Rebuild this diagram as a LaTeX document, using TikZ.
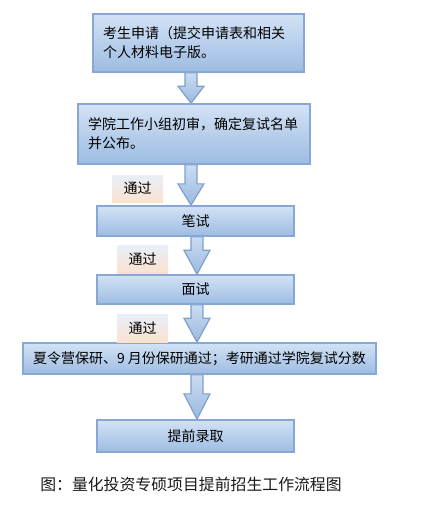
\documentclass[tikz,border=0pt]{standalone}
\usepackage{fontspec}
\setmainfont{Noto Sans CJK SC}
\usetikzlibrary{calc,backgrounds}
\definecolor{boxtop}{HTML}{D3E2F5}
\definecolor{boxbot}{HTML}{9DBCE2}
\definecolor{boxline}{HTML}{87A8D3}
\definecolor{arrtop}{HTML}{CBDCF1}
\definecolor{arrbot}{HTML}{9AB9E0}
\definecolor{arrline}{HTML}{7F9FCC}
\definecolor{labtop}{HTML}{E8EFF9}
\definecolor{labbot}{HTML}{FBE2CF}
\tikzset{
  sz/.style 2 args={minimum width=#1*0.75pt, minimum height=#2*0.75pt},
  boxtext/.style={font=\fontsize{10.5}{14.25}\selectfont},
  flowbox/.style={draw=boxline, line width=1.2pt, top color=boxtop, bottom color=boxbot, inner sep=0pt, boxtext},
  leftbox/.style={flowbox, align=left, inner xsep=7.5pt, text width=#1*0.75pt},
  passlabel/.style={top color=labtop, bottom color=labbot, inner sep=0pt, boxtext},
  blockarrow/.style={draw=arrline, line width=0.9pt, top color=arrtop, bottom color=arrbot, line join=miter}
}
% #1 from node, #2 to node, #3 x offset (pt) of arrow axis from #1 centre, #4 head length (pt)
\newcommand\flowarrow[4]{%
  \path[blockarrow] let \p1=(#1.south), \p2=(#2.north) in
    ({\x1+#3-4.5pt}, \y1) -- ({\x1+#3-4.5pt}, {\y2+#4}) -- ({\x1+#3-9.75pt}, {\y2+#4})
    -- ({\x1+#3}, \y2) -- ({\x1+#3+9.75pt}, {\y2+#4}) -- ({\x1+#3+4.5pt}, {\y2+#4})
    -- ({\x1+#3+4.5pt}, \y1) -- cycle;}
\begin{document}
\begin{tikzpicture}[x=0.75pt,y=-0.75pt]
\useasboundingbox (0,0) rectangle (421,518);
\node[leftbox=191, sz={211}{58}] (apply) at (198.5,43) {考生申请（提交申请表和相关\\个人材料电子版。};
\node[leftbox=212, sz={232}{60}] (review) at (194,134) {学院工作小组初审，确定复试名单\\并公布。};
\node[flowbox, sz={197}{30}] (written) at (195.5,221) {笔试};
\node[flowbox, sz={197}{29}] (interview) at (195.5,289.5) {面试};
\node[flowbox, sz={353}{31}] (pass) at (199.5,358.5) {夏令营保研、9 月份保研通过；考研通过学院复试分数};
\node[flowbox, sz={197}{32}] (admit) at (195.5,436) {提前录取};
\node[passlabel, sz={51}{27}] (p1) at (137.5,188.5) {通过};
\node[passlabel, sz={51}{28}] (p2) at (142.5,259) {通过};
\node[passlabel, sz={51}{28}] (p3) at (142.5,328) {通过};
\node[font=\fontsize{11.9}{14}\selectfont, text=black!90] (caption) at (191,484) {图：量化投资专硕项目提前招生工作流程图};
\begin{scope}[on background layer]
\flowarrow{apply}{review}{-5.6pt}{12.75pt}
\flowarrow{review}{written}{-2.25pt}{16pt}
\flowarrow{written}{interview}{1.1pt}{18pt}
\flowarrow{interview}{pass}{1.1pt}{18pt}
\flowarrow{pass}{admit}{-1.9pt}{19pt}
\end{scope}
\end{tikzpicture}
\end{document}
